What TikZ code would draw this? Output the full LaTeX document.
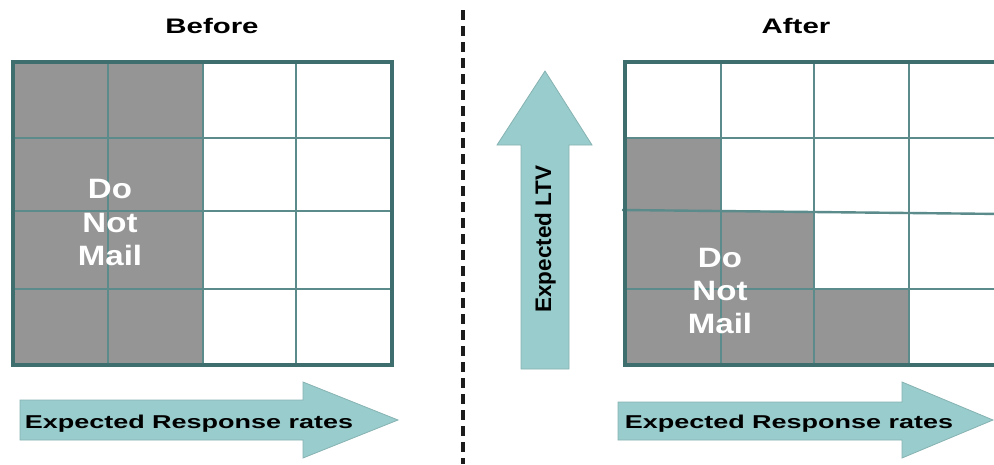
\documentclass[tikz,border=0pt]{standalone}
\usepackage{fontspec}
\newfontfamily\labfont{Liberation Sans}
\definecolor{gridouter}{HTML}{3E6E6E}
\definecolor{gridinner}{HTML}{5C8B8B}
\definecolor{cellgray}{HTML}{959595}
\definecolor{arrowfill}{HTML}{99CCCC}
\definecolor{arrowedge}{HTML}{86B2B2}
\definecolor{divider}{HTML}{1C1C1C}
\tikzset{
  outerline/.style={draw=gridouter, line width=3.5pt},
  innerline/.style={draw=gridinner, line width=2.4pt},
  blocked/.style={fill=cellgray},
  bigarrow/.style={fill=arrowfill, draw=arrowedge, line width=0.8pt, line join=miter},
  titletext/.style={font=\labfont\bfseries\fontsize{21}{24}\selectfont, xscale=1.4, anchor=base, inner sep=0pt},
  axistext/.style={font=\labfont\bfseries\fontsize{18.6}{22}\selectfont, xscale=1.45, anchor=base, inner sep=0pt},
  dnmtext/.style={font=\labfont\bfseries\fontsize{28}{32}\selectfont, xscale=1.18, anchor=base, inner sep=0pt, text=white},
  ltvtext/.style={font=\labfont\bfseries\fontsize{22.5}{26}\selectfont, rotate=90, anchor=base, inner sep=0pt},
}
\begin{document}
\begin{tikzpicture}[x=1pt, y=-1pt]
\useasboundingbox (0,0) rectangle (994,464);
\clip (0,0) rectangle (994,464);
\fill[white] (0,0) rectangle (994,464);

% ---- left panel: grid with the two low columns excluded ----
\fill[blocked] (13,62) rectangle (203,365);
\foreach \x in {108,203,296} \draw[innerline] (\x,62) -- (\x,365);
\foreach \y in {138,211,289} \draw[innerline] (13,\y) -- (392,\y);
\draw[outerline] (13,62) rectangle (392,365);

\node[titletext] (before) at (212,33) {Before};
\node[dnmtext] (ldo) at (110,198) {Do};
\node[dnmtext] (lnot) at (110,232) {Not};
\node[dnmtext] (lmail) at (110,265) {Mail};

% horizontal axis arrow, left
\draw[bigarrow] (20,400) -- (303,400) -- (303,382) -- (398,420) -- (303,458) -- (303,440) -- (20,440) -- cycle;
\node[axistext] (lresp) at (189,428) {Expected Response rates};

% ---- divider ----
\draw[divider, line width=4pt, dash pattern=on 10pt off 6pt] (463,10) -- (463,464);

% ---- vertical axis arrow ----
\draw[bigarrow] (521,369) -- (521,145) -- (497,145) -- (545,71) -- (592,145) -- (569,145) -- (569,369) -- cycle;
\node[ltvtext] (ltv) at (551,239) {Expected LTV};

% ---- right panel: staircase of excluded cells ----
\fill[blocked] (625,138) rectangle (721,365);
\fill[blocked] (721,212) rectangle (814,365);
\fill[blocked] (814,289) rectangle (909,365);
\foreach \x in {721,814,909} \draw[innerline] (\x,62) -- (\x,365);
\draw[innerline] (625,138) -- (1004,138);
\draw[innerline] (622,210) -- (1004,214);
\draw[innerline] (625,289) -- (1004,289);
\draw[outerline] (625,62) rectangle (1004,365);

\node[titletext] (after) at (796,33) {After};
\node[dnmtext] (rdo) at (720,267) {Do};
\node[dnmtext] (rnot) at (720,300) {Not};
\node[dnmtext] (rmail) at (720,333) {Mail};

% horizontal axis arrow, right
\draw[bigarrow] (618,402) -- (902,402) -- (902,382) -- (993,420) -- (902,458) -- (902,440) -- (618,440) -- cycle;
\node[axistext] (rresp) at (789,428) {Expected Response rates};
\end{tikzpicture}
\end{document}
